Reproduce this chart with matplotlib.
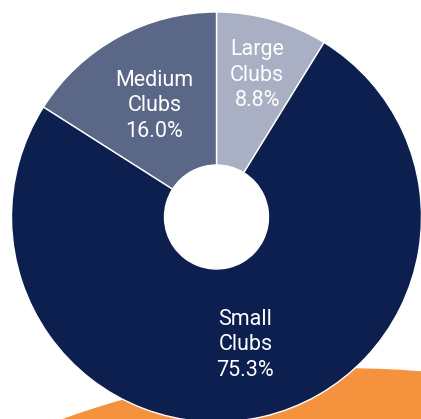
import numpy as np
import matplotlib.pyplot as plt
from matplotlib.patches import Circle

# club size split, clockwise from 12 o'clock
labels = ["Large\nClubs", "Small\nClubs", "Medium\nClubs"]
shares = [8.8, 75.3, 16.0]
colors = ["#a9b0c3", "#0c1f4e", "#5a6787"]
label_r = [0.73, 0.63, 0.63]

W, H = 421, 419
fig = plt.figure(figsize=(W / 100, H / 100), dpi=100)
ax = fig.add_axes([0, 0, 1, 1])

# orange backdrop shape peeking in along the bottom
ax.add_patch(Circle((350, H - 369 - 840), 840, color="#f5923e", zorder=0))

cx, cy, R = 216.5, H - 217, 205
wedges, _ = ax.pie(shares, colors=colors, startangle=90, counterclock=False,
                   center=(cx, cy), radius=R, normalize=True, frame=True,
                   wedgeprops=dict(width=R - 52, edgecolor="white", linewidth=1))
ax.set_xlim(0, W)
ax.set_ylim(0, H)
ax.set_aspect("equal")
ax.axis("off")

for w, lab, val, r in zip(wedges, labels, shares, label_r):
    ang = np.deg2rad((w.theta1 + w.theta2) / 2)
    x = cx + r * R * np.cos(ang)
    y = cy + r * R * np.sin(ang) - 2
    ax.text(x, y, f"{lab}\n{val:.1f}%", ha="center", va="center",
            color="white", fontsize=15.5, family="Roboto", linespacing=1.28)

fig.savefig("out.png", dpi=100)
